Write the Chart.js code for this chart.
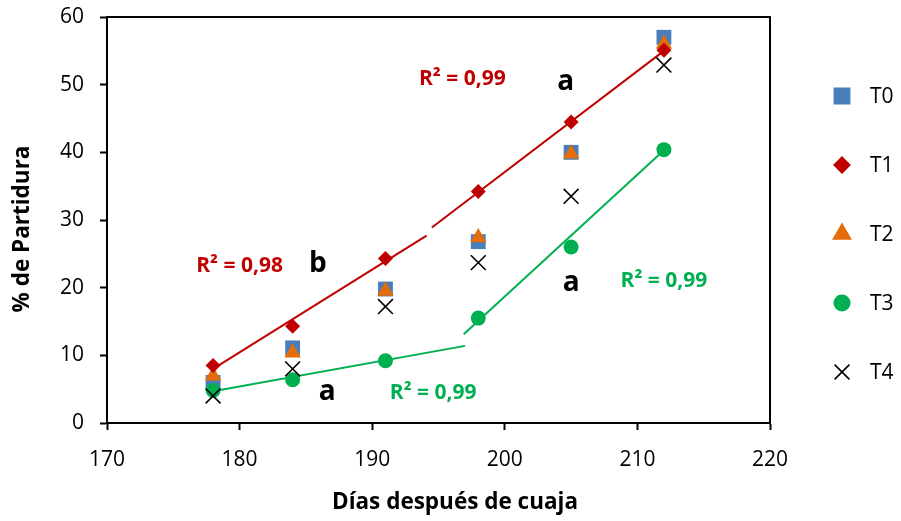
<!DOCTYPE html>
<html>
<head>
<meta charset="utf-8">
<script src="https://cdn.jsdelivr.net/npm/chart.js@4"></script>
<style>
  html, body { margin: 0; padding: 0; background: #fff; }
  #wrap { width: 901px; height: 521px; }
</style>
</head>
<body>
<div id="wrap"><canvas id="chart" width="901" height="521"></canvas></div>
<script>
// ====== DATA ======
const dias = [178, 184, 191, 198, 205, 212];
const t0 = [6.0, 11.1, 19.8, 26.8, 40.0, 57.0];
const t1 = [8.5, 14.3, 24.3, 34.2, 44.5, 55.1];
const t2 = [7.0, 10.4, 19.5, 27.4, 39.8, 56.0];
const t3 = [4.8, 6.4, 9.2, 15.5, 26.0, 40.4];
const t4 = [4.0, 8.0, 17.2, 23.7, 33.5, 52.9];

// trend line end points (x, y)
const trendRed1 = [[178, 8.0], [194.1, 27.7]];
const trendRed2 = [[194.5, 28.9], [212, 55.0]];
const trendGreen1 = [[178, 4.7], [197.0, 11.4]];
const trendGreen2 = [[196.9, 13.1], [212, 40.3]];

const xTicks = [170, 180, 190, 200, 210, 220];
const yTicks = [0, 10, 20, 30, 40, 50, 60];

// labels on the plot: [text, x, y, colour]
const notes = [
  ['R² = 0,99', 196.8, 50.8, '#C00000'],
  ['a', 204.6, 50.4, '#000'],
  ['R² = 0,98', 180.0, 23.2, '#C00000'],
  ['b', 185.9, 23.5, '#000'],
  ['a', 186.6, 4.6, '#000'],
  ['R² = 0,99', 194.6, 4.4, '#00B050'],
  ['a', 205.0, 20.7, '#000'],
  ['R² = 0,99', 212.0, 21.0, '#00B050']
];

const FONT = "'Open Sans', sans-serif";

function pts(ys) { return dias.map((d, i) => ({ x: d, y: ys[i] })); }
function line(p) { return p.map(v => ({ x: v[0], y: v[1] })); }

const series = [
  { label: 'T0', data: pts(t0), pointStyle: 'rect', pointRadius: 10.5, color: '#4A7EBB', order: 5 },
  { label: 'T1', data: pts(t1), pointStyle: 'rectRot', pointRadius: 7.5, color: '#C00000', order: 3 },
  { label: 'T2', data: pts(t2), pointStyle: 'triangle', pointRadius: 9.5, color: '#E46C0A', order: 4 },
  { label: 'T3', data: pts(t3), pointStyle: 'circle', pointRadius: 7.5, color: '#00B050', order: 2 },
  { label: 'T4', data: pts(t4), pointStyle: 'crossRot', pointRadius: 10.5, color: '#000000', order: 1 }
];

const datasets = series.map(s => ({
  label: s.label,
  data: s.data,
  showLine: false,
  pointStyle: s.pointStyle,
  pointRadius: s.pointRadius,
  pointHoverRadius: s.pointRadius,
  backgroundColor: s.color,
  borderColor: s.color,
  pointBorderWidth: s.pointStyle === 'crossRot' ? 1.6 : 0,
  order: s.order
}));

[[trendRed1, '#C00000'], [trendRed2, '#C00000'], [trendGreen1, '#00B050'], [trendGreen2, '#00B050']].forEach(t => {
  datasets.push({
    label: 'trend',
    data: line(t[0]),
    showLine: true,
    borderColor: t[1],
    borderWidth: 2,
    pointRadius: 0,
    pointHoverRadius: 0,
    fill: false,
    order: 10
  });
});

// ====== PLUGIN: frame, notes, legend, axis titles ======
const extras = {
  id: 'extras',
  afterDraw(chart) {
    const ctx = chart.ctx;
    const a = chart.chartArea;
    const xs = chart.scales.x, ys = chart.scales.y;
    ctx.save();

    // frame
    ctx.strokeStyle = '#000';
    ctx.lineWidth = 2;
    ctx.strokeRect(a.left, a.top, a.right - a.left, a.bottom - a.top);

    // notes
    ctx.textAlign = 'center';
    ctx.textBaseline = 'middle';
    notes.forEach(n => {
      ctx.font = (n[0].length === 1 ? 'bold 28px ' : 'bold 21px ') + FONT;
      ctx.fillStyle = n[3];
      ctx.fillText(n[0], xs.getPixelForValue(n[1]), ys.getPixelForValue(n[2]));
    });

    // legend
    ctx.textAlign = 'left';
    ctx.font = '21px ' + FONT;
    series.forEach((s, i) => {
      const y = 96 + i * 69;
      ctx.fillStyle = s.color;
      ctx.strokeStyle = s.color;
      ctx.lineWidth = s.pointStyle === 'crossRot' ? 1.6 : 0;
      Chart.helpers.drawPoint(ctx, { pointStyle: s.pointStyle, radius: s.pointRadius, borderWidth: ctx.lineWidth }, 842, y);
      ctx.fillStyle = '#000';
      ctx.fillText(s.label, 870, y + 1);
    });

    // axis titles
    ctx.fillStyle = '#000';
    ctx.font = 'bold 22.5px ' + FONT;
    ctx.textAlign = 'center';
    ctx.fillText('Días después de cuaja', 455, 503);
    ctx.translate(23, 229);
    ctx.rotate(-Math.PI / 2);
    ctx.fillText('% de Partidura', 0, 0);
    ctx.restore();
  }
};

new Chart(document.getElementById('chart').getContext('2d'), {
  type: 'scatter',
  data: { datasets: datasets },
  options: {
    responsive: false,
    animation: false,
    events: [],
    layout: { padding: { left: 0, top: 17, right: 131, bottom: 0 } },
    plugins: { legend: { display: false }, tooltip: { enabled: false } },
    scales: {
      x: {
        type: 'linear',
        min: 170, max: 220,
        afterBuildTicks: s => { s.ticks = xTicks.map(v => ({ value: v })); },
        afterFit: s => { s.height = 98; s.paddingLeft = 0; s.paddingRight = 0; },
        grid: { drawOnChartArea: false, drawTicks: true, tickLength: 7, tickWidth: 2, color: '#000' },
        border: { color: '#000', width: 2 },
        ticks: { color: '#000', padding: 17, font: { family: FONT, size: 21 }, maxRotation: 0 }
      },
      y: {
        type: 'linear',
        min: 0, max: 60,
        afterBuildTicks: s => { s.ticks = yTicks.map(v => ({ value: v })); },
        afterFit: s => { s.width = 107; s.paddingTop = 0; s.paddingBottom = 0; },
        grid: { drawOnChartArea: false, drawTicks: true, tickLength: 7, tickWidth: 2, color: '#000' },
        border: { color: '#000', width: 2 },
        ticks: { color: '#000', padding: 16, font: { family: FONT, size: 21 } }
      }
    }
  },
  plugins: [extras]
});
</script>
</body>
</html>
